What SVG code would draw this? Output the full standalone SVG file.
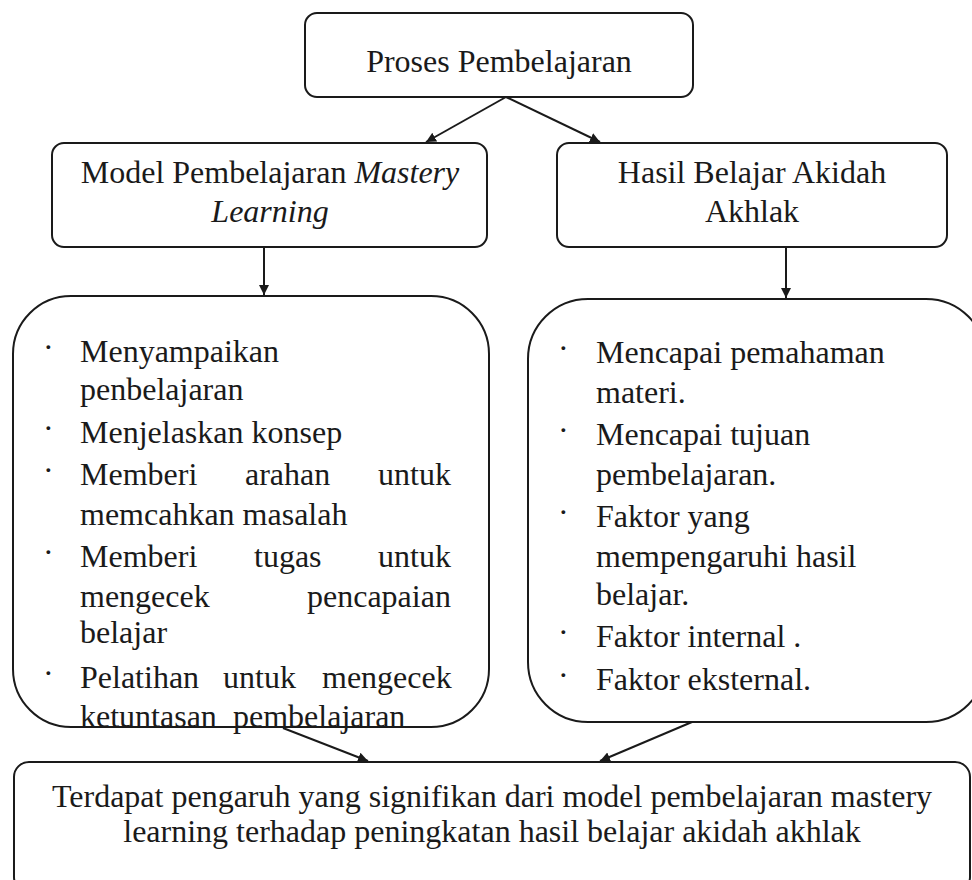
<svg xmlns="http://www.w3.org/2000/svg" width="972" height="880" viewBox="0 0 972 880">
<style>
.box{fill:#fff;stroke:#1a1a1a;stroke-width:2}
.t{font-family:"Liberation Serif","Times New Roman",serif;font-size:32px;fill:#1a1a1a}
.c{text-anchor:middle}
.i{font-style:italic}
.b{font-family:"Liberation Serif",serif;font-size:32px;fill:#1a1a1a}
.edge{stroke:#1a1a1a;stroke-width:2;fill:none;marker-end:url(#ah)}
</style>
<defs>
<marker id="ah" viewBox="0 0 10 10" refX="10" refY="5" markerWidth="10" markerHeight="10" markerUnits="userSpaceOnUse" orient="auto">
<path d="M0,0 L10,5 L0,10 z" fill="#1a1a1a"/>
</marker>
</defs>
<rect width="972" height="880" fill="#fff"/>
<g id="n-proses">
<rect class="box" x="305" y="13" width="388" height="84" rx="12"/>
<text class="t c" x="499" y="72">Proses Pembelajaran</text>
</g>
<g id="n-model">
<rect class="box" x="52" y="143" width="435" height="104" rx="12"/>
<text class="t c" x="270" y="183">Model Pembelajaran <tspan class="i">Mastery</tspan></text>
<text class="t c i" x="270" y="222">Learning</text>
</g>
<g id="n-hasil">
<rect class="box" x="557" y="143" width="390" height="104" rx="12"/>
<text class="t c" x="752" y="183">Hasil Belajar Akidah</text>
<text class="t c" x="752" y="222">Akhlak</text>
</g>
<g id="n-langkah">
<rect class="box" x="13" y="296" width="476" height="431" rx="58"/>
<text class="b" x="43" y="358">·</text>
<text class="t" x="80" y="362">Menyampaikan</text>
<text class="t" x="80" y="400">penbelajaran</text>
<text class="b" x="43" y="439">·</text>
<text class="t" x="80" y="443">Menjelaskan konsep</text>
<text class="b" x="43" y="481">·</text>
<text class="t" y="485"><tspan x="80">Memberi</tspan><tspan x="245">arahan</tspan><tspan x="378">untuk</tspan></text>
<text class="t" x="80" y="525">memcahkan masalah</text>
<text class="b" x="43" y="563">·</text>
<text class="t" y="567"><tspan x="80">Memberi</tspan><tspan x="254">tugas</tspan><tspan x="378">untuk</tspan></text>
<text class="t" y="607"><tspan x="80">mengecek</tspan><tspan x="307">pencapaian</tspan></text>
<text class="t" x="80" y="643">belajar</text>
<text class="b" x="43" y="684">·</text>
<text class="t" y="688"><tspan x="80">Pelatihan</tspan><tspan x="223">untuk</tspan><tspan x="322">mengecek</tspan></text>
<text class="t" y="727"><tspan x="80">ketuntasan</tspan><tspan x="233">pembelajaran</tspan></text>
</g>
<g id="n-capaian">
<rect class="box" x="528" y="299" width="458" height="423" rx="60"/>
<text class="b" x="558" y="359">·</text>
<text class="t" x="596" y="363">Mencapai pemahaman</text>
<text class="t" x="596" y="403">materi.</text>
<text class="b" x="558" y="441">·</text>
<text class="t" x="596" y="445">Mencapai tujuan</text>
<text class="t" x="596" y="485">pembelajaran.</text>
<text class="b" x="558" y="523">·</text>
<text class="t" x="596" y="527">Faktor yang</text>
<text class="t" x="596" y="567">mempengaruhi hasil</text>
<text class="t" x="596" y="605">belajar.</text>
<text class="b" x="558" y="643">·</text>
<text class="t" x="596" y="647">Faktor internal .</text>
<text class="b" x="558" y="686">·</text>
<text class="t" x="596" y="690">Faktor eksternal.</text>
</g>
<g id="n-kesimpulan">
<rect class="box" x="14" y="762" width="956" height="130" rx="15"/>
<text class="t c" x="492" y="807">Terdapat pengaruh yang signifikan dari model pembelajaran mastery</text>
<text class="t c" x="492" y="842">learning terhadap peningkatan hasil belajar akidah akhlak</text>
</g>
<g id="connectors">
<line class="edge" x1="506" y1="97" x2="426" y2="142"/>
<line class="edge" x1="506" y1="97" x2="600" y2="142"/>
<line class="edge" x1="264" y1="247" x2="264" y2="295"/>
<line class="edge" x1="786" y1="247" x2="786" y2="298"/>
<line class="edge" x1="283" y1="728" x2="368" y2="761"/>
<line class="edge" x1="692" y1="722" x2="600" y2="761"/>
</g>
</svg>
